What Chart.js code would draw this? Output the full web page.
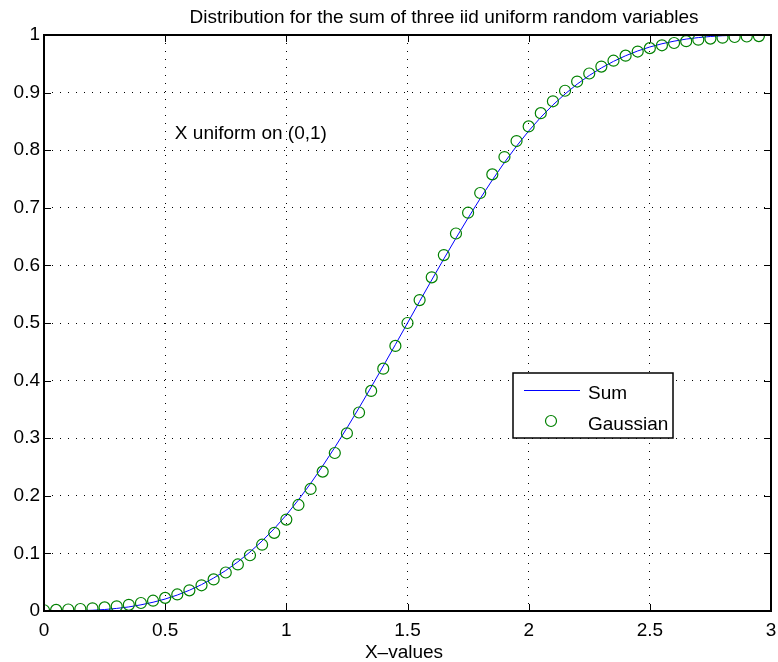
<!DOCTYPE html>
<html>
<head>
<meta charset="utf-8">
<script src="https://cdn.jsdelivr.net/npm/chart.js@4/dist/chart.umd.min.js"></script>
<style>
  html, body { margin: 0; padding: 0; background: #fff; }
  #wrap { width: 778px; height: 662px; }
</style>
</head>
<body>
<div id="wrap"><canvas id="c" width="778" height="662"></canvas></div>
<script>
// 数据: 三个均匀分布之和的分布函数
const sumX = [0,0.05,0.1,0.15,0.2,0.25,0.3,0.35,0.4,0.45,0.5,0.55,0.6,0.65,0.7,0.75,0.8,0.85,0.9,0.95,
  1,1.05,1.1,1.15,1.2,1.25,1.3,1.35,1.4,1.45,1.5,1.55,1.6,1.65,1.7,1.75,1.8,1.85,1.9,1.95,
  2,2.05,2.1,2.15,2.2,2.25,2.3,2.35,2.4,2.45,2.5,2.55,2.6,2.65,2.7,2.75,2.8,2.85,2.9,2.95,3];
const sumY = [0,0.0000,0.0002,0.0006,0.0013,0.0026,0.0045,0.0071,0.0107,0.0152,0.0208,0.0277,0.0360,0.0458,0.0572,0.0703,0.0853,0.1024,0.1215,0.1429,
  0.1667,0.1929,0.2213,0.2518,0.2840,0.3177,0.3527,0.3886,0.4253,0.4625,0.5000,0.5375,0.5747,0.6114,0.6473,0.6823,0.7160,0.7482,0.7787,0.8071,
  0.8333,0.8571,0.8785,0.8976,0.9147,0.9297,0.9428,0.9542,0.9640,0.9723,0.9792,0.9848,0.9893,0.9929,0.9955,0.9974,0.9987,0.9994,0.9998,1.0000,1];

// 高斯近似 (圆圈)
const gaussX = [0,0.05,0.1,0.15,0.2,0.25,0.3,0.35,0.4,0.45,0.5,0.55,0.6,0.65,0.7,0.75,0.8,0.85,0.9,0.95,
  1,1.05,1.1,1.15,1.2,1.25,1.3,1.35,1.4,1.45,1.5,1.55,1.6,1.65,1.7,1.75,1.8,1.85,1.9,1.95,
  2,2.05,2.1,2.15,2.2,2.25,2.3,2.35,2.4,2.45,2.5,2.55,2.6,2.65,2.7,2.75,2.8,2.85,2.9,2.95];
const gaussY = [0.0013,0.0019,0.0026,0.0035,0.0047,0.0062,0.0082,0.0107,0.0139,0.0179,0.0228,0.0287,0.0359,0.0446,0.0548,0.0668,0.0808,0.0968,0.1151,0.1357,
  0.1587,0.1841,0.2119,0.2420,0.2743,0.3085,0.3446,0.3821,0.4207,0.4602,0.5000,0.5398,0.5793,0.6179,0.6554,0.6915,0.7257,0.7580,0.7881,0.8159,
  0.8413,0.8643,0.8849,0.9032,0.9192,0.9332,0.9452,0.9554,0.9641,0.9713,0.9772,0.9821,0.9861,0.9893,0.9918,0.9938,0.9953,0.9965,0.9974,0.9981];

const xTicks = [0, 0.5, 1, 1.5, 2, 2.5, 3];
const yTicks = [0, 0.1, 0.2, 0.3, 0.4, 0.5, 0.6, 0.7, 0.8, 0.9, 1];
const legendNames = ['Sum', 'Gaussian'];
const titleText = 'Distribution for the sum of three iid uniform random variables';
const xLabelText = 'X\u2013values';
const noteText = 'X uniform on (0,1)';

const FONT = '"Liberation Sans", Arial, Helvetica, sans-serif';
const FSIZE = 19;
const LINE_COLOR = '#0000ff';
const MARK_COLOR = '#008000';

// MATLAB 风格: 外框, 内向刻度, 图例, 标注
const matlabPlugin = {
  id: 'matlab',
  afterDraw(chart) {
    const ctx = chart.ctx;
    const a = chart.chartArea;
    const xs = chart.scales.x, ys = chart.scales.y;
    ctx.save();

    // 刻度线 (向内)
    ctx.strokeStyle = '#000';
    ctx.lineWidth = 1;
    const tl = 7;
    ctx.beginPath();
    xTicks.forEach(v => {
      const px = Math.round(xs.getPixelForValue(v)) + 0.5;
      ctx.moveTo(px, a.bottom); ctx.lineTo(px, a.bottom - tl);
      ctx.moveTo(px, a.top); ctx.lineTo(px, a.top + tl);
    });
    yTicks.forEach(v => {
      const py = Math.round(ys.getPixelForValue(v)) + 0.5;
      ctx.moveTo(a.left, py); ctx.lineTo(a.left + tl, py);
      ctx.moveTo(a.right, py); ctx.lineTo(a.right - tl, py);
    });
    ctx.stroke();

    // 外框
    ctx.lineWidth = 2;
    ctx.strokeRect(a.left, a.top, a.right - a.left, a.bottom - a.top);

    // 标题
    ctx.fillStyle = '#000';
    ctx.font = FSIZE + 'px ' + FONT;
    ctx.textAlign = 'center';
    ctx.textBaseline = 'alphabetic';
    ctx.fillText(titleText, 444, 23);

    // x 轴标题
    ctx.fillText(xLabelText, 404, 658);

    // 标注文字
    ctx.textAlign = 'left';
    ctx.fillText(noteText, xs.getPixelForValue(0.54), 139);

    // 图例
    const lx = 513, ly = 373, lw = 160, lh = 65;
    ctx.fillStyle = '#fff';
    ctx.fillRect(lx, ly, lw, lh);
    ctx.lineWidth = 1.5;
    ctx.strokeStyle = '#000';
    ctx.strokeRect(lx, ly, lw, lh);

    ctx.strokeStyle = LINE_COLOR;
    ctx.lineWidth = 1;
    ctx.beginPath();
    ctx.moveTo(524, 390.5); ctx.lineTo(580, 390.5);
    ctx.stroke();

    ctx.strokeStyle = MARK_COLOR;
    ctx.lineWidth = 1.2;
    ctx.beginPath();
    ctx.arc(551, 421, 5.5, 0, Math.PI * 2);
    ctx.stroke();

    ctx.fillStyle = '#000';
    ctx.fillText(legendNames[0], 588, 399);
    ctx.fillText(legendNames[1], 588, 430);

    ctx.restore();
  }
};

const ctx = document.getElementById('c').getContext('2d');
new Chart(ctx, {
  type: 'scatter',
  data: {
    datasets: [
      {
        label: legendNames[0],
        data: sumX.map((x, i) => ({ x, y: sumY[i] })),
        showLine: true,
        borderColor: LINE_COLOR,
        borderWidth: 1,
        pointRadius: 0,
        tension: 0,
        order: 2
      },
      {
        label: legendNames[1],
        data: gaussX.map((x, i) => ({ x, y: gaussY[i] })),
        showLine: false,
        pointStyle: 'circle',
        pointRadius: 5.5,
        borderColor: MARK_COLOR,
        borderWidth: 1.2,
        backgroundColor: 'rgba(0,0,0,0)',
        order: 1
      }
    ]
  },
  options: {
    responsive: false,
    animation: false,
    devicePixelRatio: 1,
    layout: { padding: { left: 0, right: 7, top: 35, bottom: 0 } },
    plugins: {
      legend: { display: false },
      title: { display: false },
      tooltip: { enabled: false }
    },
    scales: {
      x: {
        type: 'linear',
        min: 0, max: 3,
        afterBuildTicks: s => { s.ticks = xTicks.map(v => ({ value: v })); },
        afterFit: s => { s.height = 51; s.paddingLeft = 0; s.paddingRight = 0; },
        ticks: {
          color: '#000',
          font: { family: FONT, size: FSIZE },
          padding: 8,
          maxRotation: 0,
          callback: v => String(v)
        },
        grid: { color: '#000', lineWidth: 1, drawTicks: false },
        border: { display: false, dash: [1, 7] }
      },
      y: {
        type: 'linear',
        min: 0, max: 1,
        afterBuildTicks: s => { s.ticks = yTicks.map(v => ({ value: v })); },
        afterFit: s => { s.width = 44; s.paddingTop = 0; s.paddingBottom = 0; },
        ticks: {
          color: '#000',
          font: { family: FONT, size: FSIZE },
          padding: 4,
          callback: v => String(v)
        },
        grid: { color: '#000', lineWidth: 1, drawTicks: false },
        border: { display: false, dash: [1, 7] }
      }
    }
  },
  plugins: [matlabPlugin]
});
</script>
</body>
</html>
